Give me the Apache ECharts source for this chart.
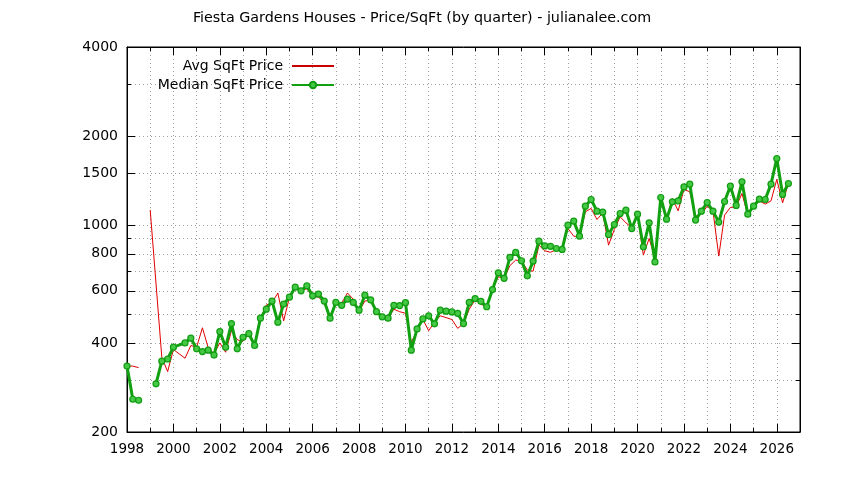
<!DOCTYPE html>
<html><head><meta charset="utf-8">
<script src="https://cdn.jsdelivr.net/npm/echarts@6/dist/echarts.min.js"></script>
<style>html,body{margin:0;padding:0;background:#fff}#c{width:844px;height:480px}</style>
</head><body><div id="c"></div>
<script>
const titleText = 'Fiesta Gardens Houses - Price/SqFt (by quarter) - julianalee.com';
const avgName = 'Avg SqFt Price';
const medianName = 'Median SqFt Price';
const yearTicks = [1998,2000,2002,2004,2006,2008,2010,2012,2014,2016,2018,2020,2022,2024,2026];
const yearMinorTicks = [1999,2001,2003,2005,2007,2009,2011,2013,2015,2017,2019,2021,2023,2025];
const priceTicks = [200,400,600,800,1000,1500,2000,4000];
const priceMinorTicks = [300,500,700,900,3000];

// Median price per sq ft (green), null = gap in the line
const medianYears = [1998,1998.25,1998.5,1998.75,
 1999.25,1999.5,1999.75,2000,2000.5,2000.75,
 2001,2001.25,2001.5,2001.75,2002,2002.25,2002.5,2002.75,2003,2003.25,2003.5,2003.75,
 2004,2004.25,2004.5,2004.75,2005,2005.25,2005.5,2005.75,2006,2006.25,2006.5,2006.75,
 2007,2007.25,2007.5,2007.75,2008,2008.25,2008.5,2008.75,2009,2009.25,2009.5,2009.75,
 2010,2010.25,2010.5,2010.75,2011,2011.25,2011.5,2011.75,2012,2012.25,2012.5,2012.75,
 2013,2013.25,2013.5,2013.75,2014,2014.25,2014.5,2014.75,2015,2015.25,2015.5,2015.75,
 2016,2016.25,2016.5,2016.75,2017,2017.25,2017.5,2017.75,2018,2018.25,2018.5,2018.75,
 2019,2019.25,2019.5,2019.75,2020,2020.25,2020.5,2020.75,2021,2021.25,2021.5,2021.75,
 2022,2022.25,2022.5,2022.75,2023,2023.25,2023.5,2023.75,2024,2024.25,2024.5,2024.75,
 2025,2025.25,2025.5,2025.75,2026,2026.25,2026.5];
const medianPrice = [334,258,256,null,
 291,347,353,387,400,415,
 382,374,378,364,437,387,465,382,418,430,392,485,
 520,554,470,541,571,617,600,624,577,585,554,485,
 548,536,562,548,516,580,559,510,490,485,536,535,
 547,378,446,482,494,464,516,512,509,503,465,548,
 565,553,530,606,690,661,778,809,758,674,756,883,
 851,848,834,828,1000,1032,918,1159,1221,1115,1106,930,
 1005,1095,1124,974,1089,845,1018,751,1240,1048,1199,1208,
 1347,1376,1040,1115,1193,1115,1024,1202,1355,1166,1401,1089,
 1159,1224,1221,1376,1680,1270,1383];

// Average price per sq ft (red), null = gap in the line
const avgYears = [1998,1998.25,1998.5,1998.75,
 1999,1999.5,1999.75,2000,2000.5,2000.75,
 2001,2001.25,2001.5,2001.75,2002,2002.25,2002.5,2002.75,2003,2003.25,2003.5,2003.75,
 2004,2004.25,2004.5,2004.75,2005,2005.25,2005.5,2005.75,2006,2006.25,2006.5,2006.75,
 2007,2007.25,2007.5,2007.75,2008,2008.25,2008.5,2008.75,2009,2009.25,2009.5,2009.75,
 2010,2010.25,2010.5,2010.75,2011,2011.25,2011.5,2011.75,2012,2012.25,2012.5,2012.75,
 2013,2013.25,2013.5,2013.75,2014,2014.25,2014.5,2014.75,2015,2015.25,2015.5,2015.75,
 2016,2016.25,2016.5,2016.75,2017,2017.25,2017.5,2017.75,2018,2018.25,2018.5,2018.75,
 2019,2019.25,2019.5,2019.75,2020,2020.25,2020.5,2020.75,2021,2021.25,2021.5,2021.75,
 2022,2022.25,2022.5,2022.75,2023,2023.25,2023.5,2023.75,2024,2024.25,2024.5,2024.75,
 2025,2025.25,2025.5,2025.75,2026,2026.25,2026.5];
const avgPrice = [334,334,330,null,
 1125,358,320,380,355,392,
 387,450,385,368,400,372,440,410,405,430,392,485,
 537,547,590,475,571,610,600,610,572,572,545,492,
 545,545,590,562,512,554,559,510,490,485,520,510,
 504,402,440,480,440,470,494,487,480,448,465,520,
 560,540,532,606,669,661,730,762,758,705,699,856,
 819,810,826,828,974,918,913,1109,1139,1045,1100,856,
 967,1067,1018,982,1081,792,902,770,1230,1048,1231,1118,
 1320,1296,1072,1089,1159,1118,786,1081,1148,1153,1280,1081,
 1153,1208,1178,1208,1428,1190,1383];

const font = 'DejaVu Sans';
const gridLine = {show: true, lineStyle: {color: '#a0a0a0', width: 1, type: [1, 3]}};
const tickStyle = {color: '#000', width: 1};

function xAxisDef(position, ticks, len, withLabels, withSplit, withLine) {
  return {
    type: 'value', min: 1998, max: 2027, position: position,
    axisLine: {show: withLine, onZero: false, lineStyle: {color: '#000'}},
    axisTick: {show: true, inside: true, length: len, customValues: ticks, lineStyle: tickStyle},
    axisLabel: withLabels ? {show: true, customValues: ticks, color: '#000', fontSize: 13.5, fontFamily: font, margin: 10,
      formatter: v => String(Math.round(v))} : {show: false},
    splitLine: withSplit ? gridLine : {show: false},
    minorTick: {show: false}
  };
}
function yAxisDef(position, ticks, len, withLabels, withSplit, withLine) {
  return {
    type: 'log', logBase: 10, min: 200, max: 4000, position: position,
    axisLine: {show: withLine, onZero: false, lineStyle: {color: '#000'}},
    axisTick: {show: true, inside: true, length: len, customValues: ticks, lineStyle: tickStyle},
    axisLabel: withLabels ? {show: true, customValues: ticks, color: '#000', fontSize: 14, fontFamily: font, margin: 9,
      formatter: v => String(Math.round(v))} : {show: false},
    splitLine: withSplit ? gridLine : {show: false},
    minorTick: {show: false}
  };
}
function toPairs(xs, ys) {
  return xs.map((x, i) => [x, ys[i] === null ? '-' : ys[i]]);
}

const legendBase = {
  orient: 'vertical', align: 'right', right: 509, itemWidth: 42, itemHeight: 8, padding: 0,
  selectedMode: false, textStyle: {fontSize: 14, fontFamily: font, color: '#000', padding: [0, 4, 0, 0]}
};

const chart = echarts.init(document.getElementById('c'), null, {renderer: 'canvas'});
chart.setOption({
  animation: false,
  backgroundColor: '#fff',
  title: {text: titleText, left: 'center', top: 11, padding: 0,
    textStyle: {fontSize: 14.3, fontWeight: 'normal', fontFamily: font, color: '#000'}},
  legend: [
    Object.assign({}, legendBase, {data: [avgName], top: 59, itemStyle: {opacity: 0}, lineStyle: {color: '#c80000'}}),
    Object.assign({}, legendBase, {data: [medianName], top: 78})
  ],
  grid: {left: 127, right: 44, top: 47, bottom: 48, show: true, borderColor: '#000', borderWidth: 1,
    backgroundColor: 'transparent', outerBoundsMode: 'none', containLabel: false},
  xAxis: [
    xAxisDef('bottom', yearTicks, 8, true, true, true),
    xAxisDef('bottom', yearMinorTicks, 4, false, true, false),
    xAxisDef('top', yearTicks, 8, false, false, true),
    xAxisDef('top', yearMinorTicks, 4, false, false, false)
  ],
  yAxis: [
    yAxisDef('left', priceTicks, 8, true, true, true),
    yAxisDef('left', priceMinorTicks, 4, false, true, false),
    yAxisDef('right', priceTicks, 8, false, false, true),
    yAxisDef('right', priceMinorTicks, 4, false, false, false)
  ],
  series: [
    {
      name: avgName, type: 'line', xAxisIndex: 0, yAxisIndex: 0,
      data: toPairs(avgYears, avgPrice), symbol: 'none', connectNulls: false,
      lineStyle: {color: '#e00000', width: 1}, itemStyle: {color: '#e00000'}, z: 3
    },
    {
      name: medianName, type: 'line', xAxisIndex: 0, yAxisIndex: 0,
      data: toPairs(medianYears, medianPrice), symbol: 'circle', symbolSize: 6, showSymbol: true, showAllSymbol: true,
      connectNulls: false,
      lineStyle: {color: '#10a010', width: 3}, itemStyle: {color: '#45c845', borderColor: '#109c10', borderWidth: 1.2}, z: 4
    }
  ]
});
</script></body></html>
